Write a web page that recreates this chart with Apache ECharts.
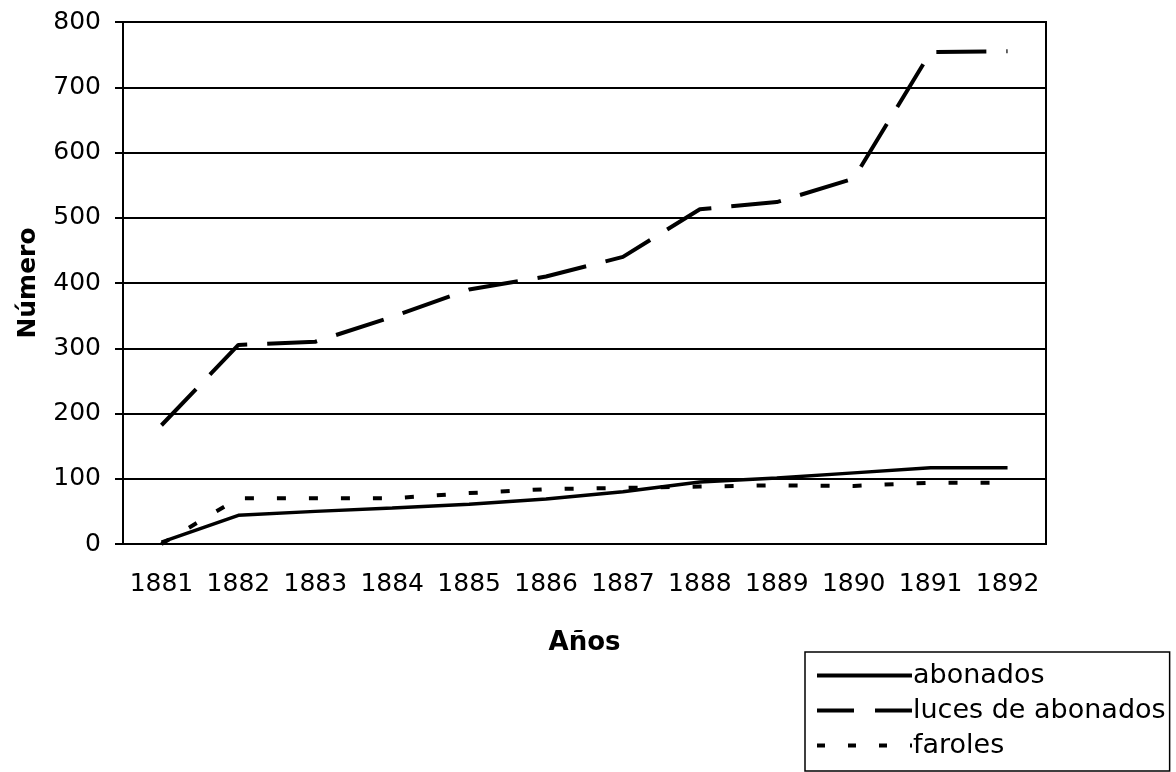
<!DOCTYPE html>
<html lang="es">
<head>
    <meta charset="UTF-8">
    <title>Abonados, luces y faroles</title>
    <style>
        body { margin: 0; background: #fff; }
        #chart { width: 1176px; height: 772px; }
    </style>
    <script src="https://cdn.jsdelivr.net/npm/echarts@6/dist/echarts.min.js"></script>
</head>
<body>
<div id="chart"></div>
<script>
var years = ['1881', '1882', '1883', '1884', '1885', '1886', '1887', '1888', '1889', '1890', '1891', '1892'];
var abonados = [3, 44, 50, 55, 61, 69, 80, 95, 101, 109, 117, 117];
var luces = [182, 305, 310, 348, 390, 410, 440, 513, 524, 560, 754, 755];
var faroles = [0, 70, 70, 70, 78, 84, 86, 88, 90, 89, 94, 94];

var font = 'DejaVu Sans';
var chart = echarts.init(document.getElementById('chart'));

chart.setOption({
    animation: false,
    backgroundColor: '#fff',
    textStyle: { fontFamily: font, color: '#000' },
    grid: {
        left: 123, top: 22, right: 130, bottom: 228,
        show: true, borderColor: '#000', borderWidth: 2
    },
    legend: {
        orient: 'vertical',
        left: 805, top: 652,
        padding: [10, 4, 12, 10],
        itemGap: 8,
        itemWidth: 95,
        itemHeight: 14,
        backgroundColor: '#fff',
        borderColor: '#000',
        borderWidth: 1.5,
        itemStyle: { opacity: 0 },
        textStyle: { fontFamily: font, fontSize: 27, color: '#000', padding: [0, 0, 0, -4] },
        data: [
            { name: 'abonados', lineStyle: { color: '#000', width: 4, type: 'solid' } },
            { name: 'luces de abonados', lineStyle: { color: '#000', width: 4, type: [37, 21] } },
            { name: 'faroles', lineStyle: { color: '#000', width: 4, type: [8, 23] } }
        ]
    },
    xAxis: {
        type: 'category',
        data: years,
        name: 'Años',
        nameLocation: 'middle',
        nameGap: 86,
        nameTextStyle: { fontFamily: font, fontSize: 26, fontWeight: 'bold', color: '#000' },
        axisLine: { lineStyle: { color: '#000', width: 2 } },
        axisTick: { length: 8, lineStyle: { color: '#000', width: 2 } },
        axisLabel: { interval: 0, fontFamily: font, fontSize: 25, color: '#000', margin: 28 }
    },
    yAxis: {
        type: 'value',
        min: 0, max: 800, interval: 100,
        name: 'Número',
        nameLocation: 'middle',
        nameGap: 82,
        nameTextStyle: { fontFamily: font, fontSize: 25, fontWeight: 'bold', color: '#000' },
        axisLine: { show: true, lineStyle: { color: '#000', width: 2 } },
        axisTick: { show: true, length: 8, lineStyle: { color: '#000', width: 2 } },
        axisLabel: { fontFamily: font, fontSize: 25, color: '#000', margin: 22 },
        splitLine: { lineStyle: { color: '#000', width: 2 } }
    },
    series: [
        {
            name: 'abonados', type: 'line', data: abonados,
            symbol: 'none', color: '#000',
            lineStyle: { color: '#000', width: 3.5 }
        },
        {
            name: 'luces de abonados', type: 'line', data: luces,
            symbol: 'none', color: '#000',
            lineStyle: { color: '#000', width: 4, type: [50, 20] }
        },
        {
            name: 'faroles', type: 'line', data: faroles,
            symbol: 'none', color: '#000',
            lineStyle: { color: '#000', width: 4, type: [9, 23] }
        }
    ]
});
</script>
</body>
</html>
